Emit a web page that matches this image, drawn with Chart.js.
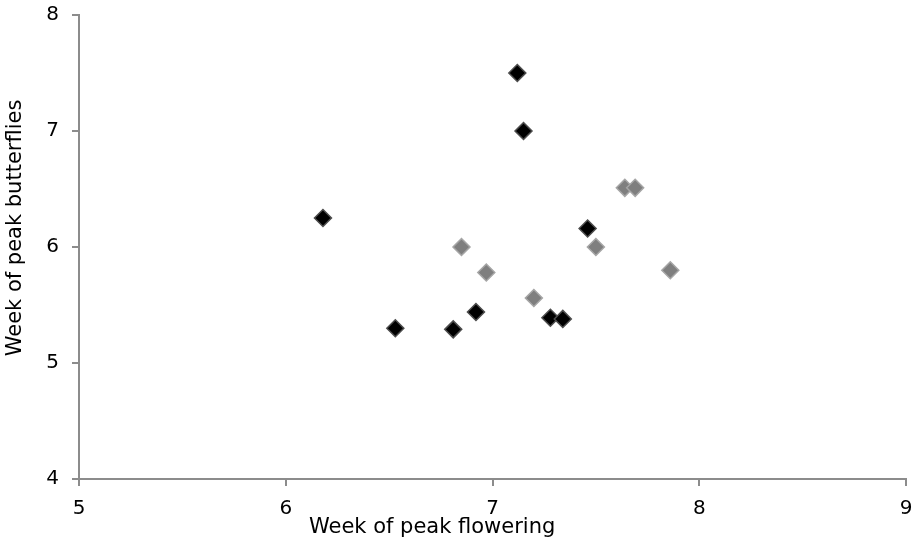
<!DOCTYPE html>
<html>
<head>
<meta charset="utf-8">
<script src="https://cdn.jsdelivr.net/npm/chart.js@4/dist/chart.umd.min.js"></script>
<style>
  html, body { margin: 0; padding: 0; background: #ffffff; }
  #wrap { width: 918px; height: 542px; position: relative; }
</style>
</head>
<body>
<div id="wrap"><canvas id="c" width="918" height="542"></canvas></div>
<script>
// ---- data ----
const blackX = [6.18, 6.53, 6.81, 6.92, 7.12, 7.15, 7.28, 7.34, 7.46];
const blackY = [6.25, 5.30, 5.29, 5.44, 7.50, 7.00, 5.39, 5.38, 6.16];
const grayX  = [6.85, 6.97, 7.20, 7.50, 7.64, 7.69, 7.86];
const grayY  = [6.00, 5.78, 5.56, 6.00, 6.51, 6.51, 5.80];
const xTicks = [5, 6, 7, 8, 9];
const yTicks = [4, 5, 6, 7, 8];
const xTitle = 'Week of peak flowering';
const yTitle = 'Week of peak butterflies';

const toPoints = (xs, ys) => xs.map((x, i) => ({ x: x, y: ys[i] }));

const FONT = '"DejaVu Sans", Verdana, sans-serif';
const AXIS = '#8c8c8c';

const titlePlugin = {
  id: 'excelTitles',
  afterDraw(chart) {
    const ctx = chart.ctx;
    const a = chart.chartArea;
    ctx.save();
    ctx.fillStyle = '#000000';
    ctx.font = '21px ' + FONT;
    ctx.textAlign = 'center';
    ctx.textBaseline = 'alphabetic';
    ctx.fillText(xTitle, a.left + 0.427 * (a.right - a.left), a.bottom + 54);
    ctx.translate(a.left - 58, a.top + 0.459 * (a.bottom - a.top));
    ctx.rotate(-Math.PI / 2);
    ctx.fillText(yTitle, 0, 0);
    ctx.restore();
  }
};

function zeroPad(s) {
  s.paddingTop = 0; s.paddingBottom = 0; s.paddingLeft = 0; s.paddingRight = 0;
}

new Chart(document.getElementById('c'), {
  type: 'scatter',
  data: {
    datasets: [
      {
        label: 'gray',
        data: toPoints(grayX, grayY),
        pointStyle: 'rectRot',
        pointRadius: 8.5,
        pointBorderWidth: 1.5,
        backgroundColor: '#7f7f7f',
        borderColor: '#a6a6a6',
        order: 0
      },
      {
        label: 'black',
        data: toPoints(blackX, blackY),
        pointStyle: 'rectRot',
        pointRadius: 8.5,
        pointBorderWidth: 1.5,
        backgroundColor: '#000000',
        borderColor: '#4d4d4d',
        order: 1
      }
    ]
  },
  options: {
    responsive: false,
    animation: false,
    layout: { padding: { top: 15, right: 12, left: 0, bottom: 0 } },
    plugins: { legend: { display: false }, tooltip: { enabled: false } },
    scales: {
      x: {
        type: 'linear',
        min: xTicks[0],
        max: xTicks[xTicks.length - 1],
        afterBuildTicks(s) { s.ticks = xTicks.map(v => ({ value: v })); },
        afterFit(s) { s.height = 63; zeroPad(s); },
        border: { display: true, color: AXIS, width: 2 },
        grid: { display: true, drawOnChartArea: false, drawTicks: true, tickLength: 7, color: AXIS, lineWidth: 2 },
        ticks: { color: '#000000', font: { family: FONT, size: 20 }, padding: 11, maxRotation: 0 }
      },
      y: {
        type: 'linear',
        min: yTicks[0],
        max: yTicks[yTicks.length - 1],
        afterBuildTicks(s) { s.ticks = yTicks.map(v => ({ value: v })); },
        afterFit(s) { s.width = 79; zeroPad(s); },
        border: { display: true, color: AXIS, width: 2 },
        grid: { display: true, drawOnChartArea: false, drawTicks: true, tickLength: 7, color: AXIS, lineWidth: 2 },
        ticks: { color: '#000000', font: { family: FONT, size: 20 }, padding: 13 }
      }
    }
  },
  plugins: [titlePlugin]
});
</script>
</body>
</html>
